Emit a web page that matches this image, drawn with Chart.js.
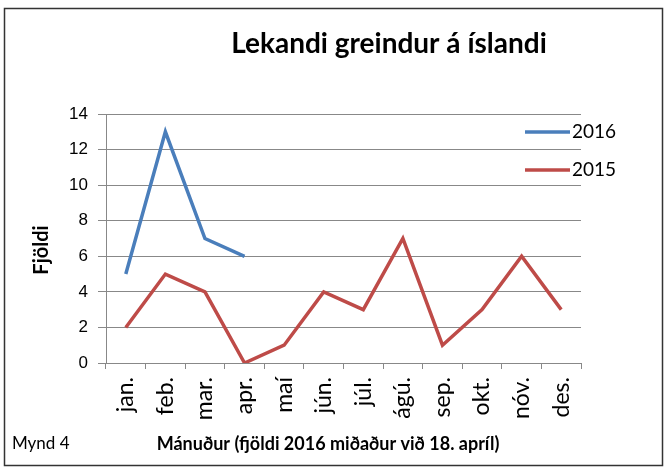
<!doctype html>
<html>
<head>
    <title>Lekandi</title>
    <script src="https://cdn.jsdelivr.net/npm/chart.js"></script>
    <style>
        body { margin: 0; padding: 0; background: #fff; }
        #graf { display: block; }
    </style>
</head>
<body>
    <canvas id="graf" width="667" height="471"></canvas>
    <script>
        // gögn lesin af myndinni
        var manudir = ['jan.', 'feb.', 'mar.', 'apr.', 'maí', 'jún.', 'júl.', 'ágú.', 'sep.', 'okt.', 'nóv.', 'des.'];
        var fjoldi2016 = [5, 13, 7, 6, null, null, null, null, null, null, null, null];
        var fjoldi2015 = [2, 5, 4, 0, 1, 4, 3, 7, 1, 3, 6, 3];

        var FONT = 'Lato, "Open Sans", sans-serif';

        // titill, ásaheiti, rammi og skýringar
        var textar = {
            id: 'textar',
            afterDraw: function (chart) {
                var ctx = chart.ctx;
                ctx.save();
                ctx.strokeStyle = '#333';
                ctx.lineWidth = 1.5;
                ctx.strokeRect(4.5, 8.5, 658, 457);

                ctx.fillStyle = '#000';
                ctx.textBaseline = 'middle';
                ctx.textAlign = 'center';
                ctx.font = 'bold 28px ' + FONT;
                ctx.fillText('Lekandi greindur á íslandi', 389, 44);

                ctx.font = 'bold 18px ' + FONT;
                ctx.fillText('Mánuður (fjöldi 2016 miðaður við 18. apríl)', 328, 444);

                ctx.textAlign = 'left';
                ctx.font = '17px ' + FONT;
                ctx.fillText('Mynd 4', 12, 444);

                ctx.save();
                ctx.translate(42, 250);
                ctx.rotate(-Math.PI / 2);
                ctx.textAlign = 'center';
                ctx.font = 'bold 20px ' + FONT;
                ctx.fillText('Fjöldi', 0, 0);
                ctx.restore();

                // skýringar
                chart.data.datasets.forEach(function (ds, i) {
                    var y = [132, 170][i];
                    ctx.strokeStyle = ds.borderColor;
                    ctx.lineWidth = 3.5;
                    ctx.beginPath();
                    ctx.moveTo(525, y);
                    ctx.lineTo(570, y);
                    ctx.stroke();
                    ctx.fillStyle = '#000';
                    ctx.textAlign = 'left';
                    ctx.font = '19px ' + FONT;
                    ctx.fillText(ds.label, 572, y);
                });
                ctx.restore();
            }
        };

        new Chart(document.getElementById('graf').getContext('2d'), {
            type: 'line',
            data: {
                labels: manudir,
                datasets: [{
                    label: '2016',
                    data: fjoldi2016,
                    borderColor: '#4A7EBB',
                    borderWidth: 3.5,
                    pointRadius: 0,
                    spanGaps: false
                }, {
                    label: '2015',
                    data: fjoldi2015,
                    borderColor: '#BE4B48',
                    borderWidth: 3.5,
                    pointRadius: 0
                }]
            },
            options: {
                responsive: false,
                animation: false,
                layout: { padding: { left: 0, top: 114, right: 86, bottom: 0 } },
                plugins: {
                    legend: { display: false },
                    title: { display: false },
                    tooltip: { enabled: false }
                },
                scales: {
                    x: {
                        offset: true,
                        afterFit: function (s) { s.height = 108; },
                        grid: {
                            offset: true,
                            drawOnChartArea: false,
                            color: '#888',
                            tickLength: 6
                        },
                        border: { color: '#888' },
                        ticks: {
                            minRotation: 90,
                            maxRotation: 90,
                            padding: 8,
                            color: '#000',
                            font: { family: FONT, size: 23 }
                        }
                    },
                    y: {
                        min: 0,
                        max: 14,
                        afterFit: function (s) { s.width = 106; },
                        grid: { color: '#888', tickLength: 8 },
                        border: { color: '#888' },
                        ticks: {
                            stepSize: 2,
                            padding: 10,
                            color: '#000',
                            font: { family: '"Liberation Sans", Arial, sans-serif', size: 17 }
                        }
                    }
                }
            },
            plugins: [textar]
        });
    </script>
</body>
</html>
